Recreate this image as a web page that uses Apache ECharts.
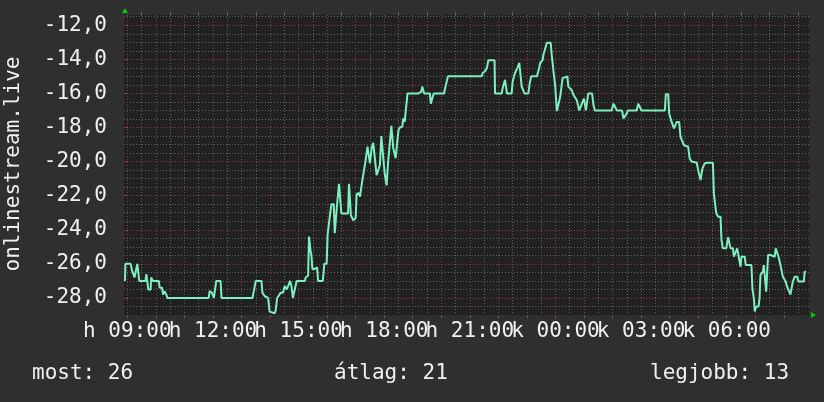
<!DOCTYPE html>
<html>
<head>
<meta charset="utf-8">
<script src="https://cdn.jsdelivr.net/npm/echarts@6/dist/echarts.min.js"></script>
<style>
html, body { margin: 0; padding: 0; background: #2f2f2f; }
#chart { width: 824px; height: 402px; }
</style>
</head>
<body>
<div id="chart"></div>
<script>
// minutes since Monday 09:00
const minutes = [
  -5, -4, 7, 10, 15, 18, 21, 24, 25, 38, 40, 42, 44, 49, 50, 54, 66, 68, 73, 75, 78, 82, 84, 171, 173, 178, 182, 187, 196, 198, 263,
  266, 270, 282, 284, 289, 296, 299, 303, 310, 312, 315, 319, 322, 327, 331, 335, 338, 342, 345, 348, 352, 356, 373, 375, 380, 382,
  385, 387, 389, 394, 396, 399, 401, 411, 414, 419, 421, 424, 427, 429, 434, 436, 440, 441, 443, 445, 448, 450, 464, 466, 468, 470,
  475, 480, 482, 487,
  489, 493, 494, 498, 500, 503, 505, 508, 510, 512, 514, 517, 521, 524, 528, 531, 534, 538, 541, 543, 545, 547, 548, 552, 555, 557,
  559, 562, 564, 568, 570, 573, 576, 578, 580, 583, 587, 589, 612, 615, 618, 620, 622, 624, 636, 638, 641, 644, 666, 668, 671, 674, 745,
  747, 752, 756, 759, 772, 773, 787, 789, 793, 794, 797, 798, 808, 810, 815, 820, 824, 827, 829, 833, 835, 843, 846, 849, 861, 864,
  868, 873, 875, 878, 882, 890, 892, 896, 897, 899, 903, 907, 910, 915, 918, 925, 927, 934, 938, 945, 950, 954, 957, 960, 964, 966,
  969, 977, 980, 983,
  1018, 1022, 1026, 1029, 1040, 1043, 1046, 1050, 1052, 1071, 1074, 1078, 1081, 1130, 1132, 1137, 1139, 1143, 1146, 1149, 1153, 1155,
  1160, 1163, 1167, 1170, 1174, 1179, 1182, 1186, 1188, 1197, 1200, 1205, 1207, 1209, 1214, 1220,
  1231, 1233, 1236, 1238, 1242, 1247, 1249, 1252, 1259, 1263, 1266, 1268, 1273, 1275, 1279, 1282, 1286, 1289, 1291, 1294, 1298, 1300,
  1312, 1314, 1317, 1319, 1322, 1327, 1329, 1331, 1336, 1338, 1341, 1343, 1345, 1347, 1352, 1355, 1361, 1363, 1366, 1369, 1373, 1375,
  1378, 1384, 1387, 1391, 1394, 1396, 1399, 1403, 1408, 1411, 1422, 1424, 1427
]
const values = [
  -27, -26, -26, -26.4, -26.8, -26.8, -26, -26, -27, -27, -26.6, -26.6, -27.5, -27.5, -26.8, -27, -27, -27.4, -27.4, -27.8,
  -27.6, -27.8, -28, -28, -27.6, -27.7, -28, -27, -27, -28, -28,
  -27.6, -27, -27, -27.7, -27.9, -28, -28.8, -28.9, -28.9, -28.7, -28, -28, -27.7, -27.7, -27.3, -27.5, -27.3, -27, -27.3, -28,
  -28, -27, -27, -26.8, -26.7, -24.4, -25.2, -25.5, -26.3, -26.3, -26.2, -26.2, -27, -27, -26, -26, -24.3, -23.6, -23.6, -22.5,
  -22.5, -24.2, -24.2, -22.5, -22.5, -21.3, -21.3, -23.05, -23.05, -21.3, -21.3, -23.15, -23.45, -23.3, -21.9, -21.86,
  -22.06, -22.06, -21.1, -21.1, -20.1, -20, -19.13, -19.13, -20.1, -20.2, -19.13, -18.9, -18.8, -20.8, -20.8, -20.2, -18.5, -18.5,
  -20.7, -20.8, -21.4, -21.4, -20.1, -20.1, -17.9, -17.9, -19.2, -19.3, -19.8, -19.8, -18.15, -18, -17.95, -17.95, -17.47, -17.67,
  -17.67, -16, -16, -15.9, -15.9, -15.6, -15.6, -16, -16, -16.6, -16.6, -16, -16, -15.7, -15.6, -15, -15,
  -14.8, -14.7, -14.5, -14.05, -14.05, -16, -16, -15.7, -15.7, -15.2, -15.2, -16, -16, -15.3, -14.8, -14.5, -14.2, -14.2, -15.6,
  -15.7, -16, -16, -15.4, -15, -15, -14.7, -14.2, -14.05, -13.7, -13.6, -13.03, -13.03, -13.7, -13.7, -15, -15.4, -17.04, -17.04,
  -16.2, -15.1, -15, -15, -15.6, -15.8, -16.1, -16.4, -17, -17, -16.5, -16.3, -17, -17, -16, -16, -16.7, -17,
  -17, -16.6, -16.6, -17, -17, -17.47, -17.47, -17.17, -17, -17, -16.6, -16.6, -17, -17, -16.05, -16.05, -17.17, -17.57, -17.67,
  -18.05, -18.05, -17.67, -17.67, -18.55, -18.64, -19.03, -19.13, -19.13, -19.8, -20, -20.07, -20.07, -20.5, -21.08, -21.08,
  -20.4, -20.1, -20.07,
  -20.07, -21.86, -21.96, -23.03, -23.23, -23.23, -24.6, -25.09, -25.09, -24.44, -24.44, -25.09, -25.09, -25.58, -25.58, -25.09,
  -25.09, -26.17, -25.58, -25.58, -25.58, -26.07, -26.07, -27.43, -28.02, -28.8, -28.5, -28.5, -28.02, -26.65, -26.46, -26.07,
  -26.07, -27.63, -27.63, -25.48, -25.48, -25.58, -25.58, -25.09, -25.09, -25.58, -26.07, -26.17, -26.75, -27.04, -27.34,
  -27.43, -27.8, -27.8, -27.04, -26.75, -26.75, -27.04, -27.04, -26.46, -26.46
]

const timeTicks = [0, 180, 360, 540, 720, 900, 1080, 1260]
const timeLabels = ['h 09:00', 'h 12:00', 'h 15:00', 'h 18:00', 'h 21:00', 'k 00:00', 'k 03:00', 'k 06:00']
const yTicks = [-28, -26, -24, -22, -20, -18, -16, -14, -12]
const yLabels = ['-28,0', '-26,0', '-24,0', '-22,0', '-20,0', '-18,0', '-16,0', '-14,0', '-12,0']
const stats = ['most: 26', 'átlag: 21', 'legjobb: 13']

const X_MIN = -7
const X_MAX = 1433
const Y_MIN = -29
const Y_MAX = -11.4

// grid: red every hour / 2 units, grey every half hour / half unit
const hourLines = []
const halfHourLines = []
for (let m = 0; m <= 1410; m += 30) {
  if (m % 60 === 0) hourLines.push(m)
  else halfHourLines.push(m)
}
const majorY = yTicks.slice()
const minorY = []
for (let v = -28.5; v <= -11.5; v += 0.5) {
  if (v % 2 !== 0) minorY.push(v)
}
// the labels are wider than their spacing, so split them over two axes
const labelsA = timeTicks.filter((t, i) => i % 2 === 0)
const labelsB = timeTicks.filter((t, i) => i % 2 === 1)

const font = 'DejaVu Sans Mono'
const textColor = '#f0f0f0'
const red = '#8e3f3f'
const grey = '#626262'

const timeLabel = {
  formatter: v => timeLabels[timeTicks.indexOf(v)],
  showMinLabel: true,
  showMaxLabel: true,
  color: textColor,
  fontFamily: font,
  fontSize: 21,
  margin: 6
}

const chart = echarts.init(document.getElementById('chart'))

const option = {
  backgroundColor: '#2f2f2f',
  animation: false,
  grid: {
    left: 124,
    top: 15,
    width: 685,
    height: 300,
    show: true,
    backgroundColor: '#212121',
    borderWidth: 0
  },
  xAxis: [
    {
      type: 'value',
      min: X_MIN,
      max: X_MAX,
      position: 'bottom',
      axisLine: { show: false },
      axisTick: { show: true, length: 3, customValues: hourLines, lineStyle: { color: red } },
      axisLabel: Object.assign({ customValues: labelsA }, timeLabel),
      splitLine: { show: true, lineStyle: { color: red, type: [1, 2], width: 1 } }
    },
    {
      type: 'value',
      min: X_MIN,
      max: X_MAX,
      position: 'top',
      axisLine: { show: false },
      axisLabel: { show: false },
      axisTick: { show: true, length: 3, customValues: halfHourLines, lineStyle: { color: grey } },
      splitLine: { show: true, lineStyle: { color: grey, type: [1, 2], width: 1 } }
    },
    {
      type: 'value',
      min: X_MIN,
      max: X_MAX,
      position: 'bottom',
      axisLine: { show: false },
      axisTick: { show: false, customValues: labelsB },
      axisLabel: Object.assign({ customValues: labelsB }, timeLabel),
      splitLine: { show: false }
    }
  ],
  yAxis: [
    {
      type: 'value',
      min: Y_MIN,
      max: Y_MAX,
      position: 'left',
      axisLine: { show: false },
      axisTick: { show: true, length: 3, customValues: majorY, lineStyle: { color: red } },
      axisLabel: {
        customValues: majorY,
        formatter: v => yLabels[yTicks.indexOf(v)],
        showMinLabel: true,
        showMaxLabel: true,
        color: textColor,
        fontFamily: font,
        fontSize: 21,
        margin: 17
      },
      splitLine: { show: true, lineStyle: { color: red, type: [1, 2], width: 1 } }
    },
    {
      type: 'value',
      min: Y_MIN,
      max: Y_MAX,
      position: 'right',
      axisLine: { show: false },
      axisLabel: { show: false },
      axisTick: { show: false, customValues: minorY },
      splitLine: { show: true, lineStyle: { color: grey, type: [1, 2], width: 1 } }
    }
  ],
  series: [
    {
      type: 'line',
      xAxisIndex: 0,
      yAxisIndex: 0,
      data: minutes.map((m, i) => [m, values[i]]),
      showSymbol: false,
      lineStyle: { color: '#7df0bf', width: 2 },
      z: 10
    }
  ],
  graphic: [
    {
      type: 'text',
      x: 14,
      y: 164,
      rotation: Math.PI / 2,
      style: {
        text: 'onlinestream.live',
        fill: textColor,
        font: '21px "DejaVu Sans Mono"',
        align: 'center',
        verticalAlign: 'middle'
      }
    },
    {
      type: 'polygon',
      shape: { points: [[122, 13], [128, 13], [125, 8]] },
      style: { fill: '#00cc00' }
    },
    {
      type: 'polygon',
      shape: { points: [[811, 312], [811, 318], [816, 315]] },
      style: { fill: '#00cc00' }
    },
    {
      type: 'text', x: 32, y: 374,
      style: { text: stats[0], fill: textColor, font: '21px "DejaVu Sans Mono"', verticalAlign: 'middle' }
    },
    {
      type: 'text', x: 334, y: 374,
      style: { text: stats[1], fill: textColor, font: '21px "DejaVu Sans Mono"', verticalAlign: 'middle' }
    },
    {
      type: 'text', x: 650, y: 374,
      style: { text: stats[2], fill: textColor, font: '21px "DejaVu Sans Mono"', verticalAlign: 'middle' }
    }
  ]
}

chart.setOption(option)
</script>
</body>
</html>
